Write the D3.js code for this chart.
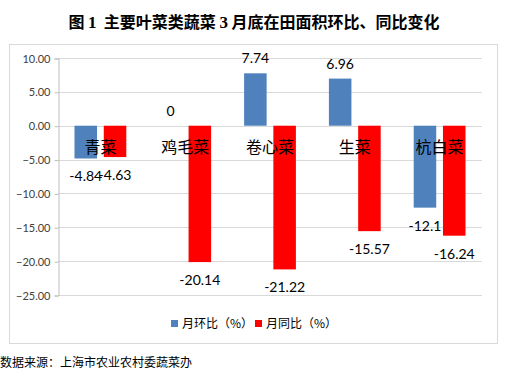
<!DOCTYPE html>
<html>
<head>
<meta charset="utf-8">
<script src="https://cdn.jsdelivr.net/npm/d3@7"></script>
<style>
body { margin: 0; background: #fff; }
svg { display: block; }
</style>
</head>
<body>
<svg width="509" height="375"></svg>
<script>
const categories = ["青菜", "鸡毛菜", "卷心菜", "生菜", "杭白菜"];
const seriesNames = ["月环比（%）", "月同比（%）"];
const huanbi = [-4.84, 0, 7.74, 6.96, -12.1];
const tongbi = [-4.63, -20.14, -21.22, -15.57, -16.24];
const yTicks = [10, 5, 0, -5, -10, -15, -20, -25];
const colors = ["#4F81BD", "#FF0000"];

const svg = d3.select("svg");
const cjk = "'Noto Sans CJK SC', sans-serif";
const num = "Lato, 'Noto Sans', sans-serif";
const serif = "'Liberation Serif', serif";

// title: CJK in bold sans, the numbers in bold serif
const titleParts = [
    ["图 ", cjk], ["1", serif], ["  主要叶菜类蔬菜 ", cjk], ["3", serif], [" 月底在田面积环比、同比变化", cjk]
];
const title = svg.append("text")
    .attr("x", 254)
    .attr("y", 28)
    .attr("text-anchor", "middle")
    .attr("font-weight", "bold")
    .attr("font-size", 16)
    .style("white-space", "pre");
titleParts.forEach(p => {
    title.append("tspan")
        .attr("font-family", p[1])
        .attr("font-size", p[1] === serif ? 17 : 16)
        .text(p[0]);
});

// chart frame
svg.append("rect")
    .attr("x", 9.5)
    .attr("y", 44.5)
    .attr("width", 488)
    .attr("height", 299)
    .attr("fill", "none")
    .attr("stroke", "#d9d9d9");

const plotL = 58, plotR = 482, plotT = 58, plotB = 295;

const y = d3.scaleLinear().domain([10, -25]).range([plotT, plotB]);
const x0 = d3.scaleBand().domain(categories).range([plotL, plotR]);
const x1 = d3.scaleBand().domain(seriesNames)
    .range([16.5, x0.bandwidth() - 16.5])
    .paddingInner(0.23);

// grid
svg.append("g")
    .selectAll("line")
    .data(yTicks)
    .enter()
    .append("line")
    .attr("x1", plotL)
    .attr("x2", plotR)
    .attr("y1", d => Math.round(y(d)) + 0.5)
    .attr("y2", d => Math.round(y(d)) + 0.5)
    .attr("stroke", "#d9d9d9");

// y axis
const yAxis = svg.append("g")
    .attr("transform", `translate(${plotL + 0.5},0.5)`)
    .call(d3.axisLeft(y).tickValues(yTicks).tickFormat(d3.format(".2f")).tickSize(4).tickPadding(4));
yAxis.select(".domain").attr("stroke", "#bfbfbf");
yAxis.selectAll(".tick line").attr("stroke", "#bfbfbf");
yAxis.selectAll(".tick text")
    .attr("font-family", num)
    .attr("font-size", 11)
    .attr("fill", "#404040")
    .text(d => d === 0 ? "0.00" : d3.format(".2f")(d));

const rows = categories.map((c, i) => ({
    cat: c,
    vals: [huanbi[i], tongbi[i]]
}));

const groups = svg.append("g")
    .selectAll("g")
    .data(rows)
    .enter()
    .append("g")
    .attr("transform", d => `translate(${x0(d.cat)},0)`);

groups.selectAll("rect")
    .data(d => d.vals.map((v, j) => ({ name: seriesNames[j], v, j })))
    .enter()
    .append("rect")
    .attr("x", d => x1(d.name))
    .attr("width", x1.bandwidth())
    .attr("y", d => y(Math.max(0, d.v)))
    .attr("height", d => Math.abs(y(d.v) - y(0)))
    .attr("fill", d => colors[d.j]);

// category labels (drawn over bars, like the original)
svg.append("g")
    .selectAll("text")
    .data(categories)
    .enter()
    .append("text")
    .attr("x", d => x0(d) + x0.bandwidth() / 2)
    .attr("y", y(0) + 27)
    .attr("text-anchor", "middle")
    .attr("font-family", cjk)
    .attr("font-size", 16)
    .attr("fill", "#000")
    .text(d => d);

// data labels
groups.selectAll("text.val")
    .data(d => d.vals.map((v, j) => ({ name: seriesNames[j], v, j })))
    .enter()
    .append("text")
    .attr("class", "val")
    .attr("x", d => x1(d.name) + x1.bandwidth() / 2)
    .attr("y", d => d.v < 0 ? y(d.v) + 23 : y(d.v) - 10)
    .attr("text-anchor", "middle")
    .attr("font-family", num)
    .attr("font-size", 14)
    .attr("fill", "#000")
    .text(d => String(d.v));

// legend
const legend = svg.append("g")
    .attr("transform", "translate(171,320)");
const legX = [0, 84];
seriesNames.forEach((s, i) => {
    legend.append("rect")
        .attr("x", legX[i])
        .attr("y", 0)
        .attr("width", 7)
        .attr("height", 7)
        .attr("fill", colors[i]);
    legend.append("text")
        .attr("x", legX[i] + 11)
        .attr("y", 8)
        .attr("font-family", cjk)
        .attr("font-size", 12)
        .attr("fill", "#000")
        .text(s);
});

// source
svg.append("text")
    .attr("x", 0)
    .attr("y", 367)
    .attr("font-family", cjk)
    .attr("font-size", 12)
    .attr("fill", "#000")
    .text("数据来源：上海市农业农村委蔬菜办");
</script>
</body>
</html>
